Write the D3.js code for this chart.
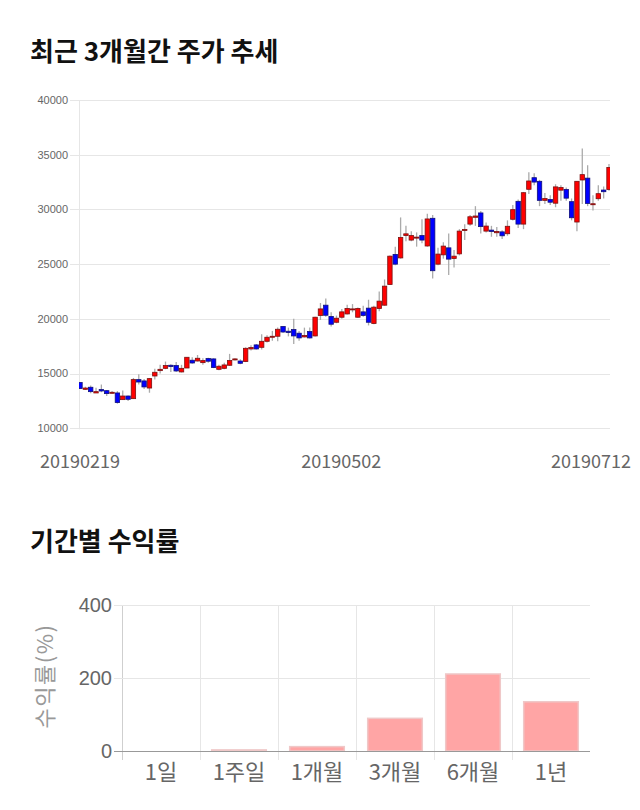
<!DOCTYPE html>
<html><head><meta charset="utf-8">
<script src="https://cdn.jsdelivr.net/npm/d3@7"></script>
<style>
body{margin:0;background:#fff;}
svg{display:block;}
</style></head>
<body>
<svg id="c" width="640" height="810"></svg>
<script>
const dates = [
"20190219","20190220","20190221","20190222","20190225","20190226","20190227","20190228",
"20190304","20190305","20190306","20190307","20190308","20190311","20190312","20190313","20190314","20190315","20190318","20190319","20190320","20190321","20190322","20190325","20190326","20190327","20190328","20190329",
"20190401","20190402","20190403","20190404","20190405","20190408","20190409","20190410","20190411","20190412","20190415","20190416","20190417","20190418","20190419","20190422","20190423","20190424","20190425","20190426","20190429","20190430",
"20190502","20190503","20190507","20190508","20190509","20190510","20190513","20190514","20190515","20190516","20190517","20190520","20190521","20190522","20190523","20190524","20190527","20190528","20190529","20190530","20190531",
"20190603","20190604","20190605","20190607","20190610","20190611","20190612","20190613","20190614","20190617","20190618","20190619","20190620","20190621","20190624","20190625","20190626","20190627","20190628",
"20190701","20190702","20190703","20190704","20190705","20190708","20190709","20190710","20190711","20190712"];
const opens = [14180,13560,13750,13230,13540,13440,13200,13230,12620,12950,12710,14450,14330,13680,14780,15270,15480,15760,15730,15150,
15510,16220,16150,16000,16370,16340,15390,15480,15760,16280,16150,16100,17250,17620,17400,17950,18350,18410,19300,18870,
19020,18690,18350,18840,18440,20310,21250,20220,19690,20150,20450,20860,20150,20640,20980,19580,20950,21250,23140,25890,
25570,27610,27200,27400,27610,26660,29190,25000,25850,26490,25520,25940,28080,28660,29280,29680,28020,28110,27870,27950,
27780,29100,30740,28660,31840,32900,32570,30830,30900,30570,31760,31820,30710,28850,32690,32860,30430,30980,31770,31820];
const highs = [14200,13800,13900,13700,14000,13500,13400,13400,13450,13000,14600,14950,14500,14600,15450,15800,16100,15850,16050,15800,
16500,16500,16700,16400,16450,16400,15800,16000,16800,16400,16300,17400,17600,17700,18600,18500,18900,19200,19350,19200,
20000,18900,19200,19200,20200,21450,21850,20600,20300,20900,21300,21350,21050,21200,21750,21200,22500,23600,25800,26600,
29270,28500,28000,27900,29100,29600,29500,26500,27000,27800,26300,28200,28650,29500,30300,29850,28800,28500,28400,28100,
29000,30400,30900,31600,33400,33300,32700,31500,31300,32300,32200,32000,31000,32600,35560,34040,31300,32200,32100,34150];
const lows = [13600,13500,13200,13230,13300,12950,13150,12250,12600,12500,12700,14000,13600,13250,14450,15000,15400,15150,15150,15100,
15500,15900,16100,15800,16000,15500,15300,15400,15700,16200,15850,16050,17100,17200,17200,17850,18000,17950,18700,18400,
17700,18000,18300,18200,18400,19900,20200,19300,19600,20000,20400,20600,20100,20200,19400,19500,20700,21200,23100,24900,
25500,27100,27100,26600,26900,26600,23700,24900,25500,24000,24700,25800,27200,28500,28500,27800,27900,27500,27500,27300,
27600,29000,28300,28200,31400,32200,30300,30500,30400,30200,30800,30800,29000,28000,30500,30300,29900,30800,31000,31700];
const closes = [13630,13680,13350,13350,13410,13170,13290,12350,12950,12650,14450,14230,13780,14540,15120,15390,15730,15640,15240,15480,
16490,15970,16400,16190,16130,15550,15670,15790,16190,16340,15940,17310,17380,17250,17950,18320,18410,19050,18800,18750,
18440,18260,18480,18260,20150,20910,20330,19510,20060,20640,20950,20910,20950,20310,19690,21070,21620,22990,25730,25000,
27430,27770,27610,27470,27200,29130,24400,25920,26650,25460,25730,28020,28170,29330,29400,28430,28480,27990,27990,27590,
28460,29980,28660,31530,32600,32500,30830,30990,30660,32060,32000,31030,29240,32570,33180,30550,30520,31440,31620,33840];
const priceTicks = [10000,15000,20000,25000,30000,35000,40000];
const dateLabels = ["20190219","20190502","20190712"];

const periods = ["1일","1주일","1개월","3개월","6개월","1년"];
const returns = [0,3,12,89.5,211,135];
const returnTicks = [0,200,400];

const svg = d3.select("#c");
const KR = "'Noto Sans CJK KR','Noto Sans',sans-serif";
const AR = "'Liberation Sans',Arial,sans-serif";

// Titles
svg.append("text").attr("x",30).attr("y",61).text("최근 3개월간 주가 추세")
  .attr("font-family",KR).attr("font-weight","bold").attr("font-size",26).attr("fill","#111");
svg.append("text").attr("x",30).attr("y",551).text("기간별 수익률")
  .attr("font-family",KR).attr("font-weight","bold").attr("font-size",26).attr("fill","#111");

// ---------- Candlestick ----------
const L = 80, R = 610;
const x = d3.scalePoint().domain(dates).range([80, 609]);
const y = d3.scaleLinear().domain([10000,40000]).range([428.3,100]);
const g1 = svg.append("g");
g1.selectAll("line.gh").data(priceTicks).join("line")
  .attr("x1",70).attr("x2",R).attr("y1",d=>Math.round(y(d))+0.5).attr("y2",d=>Math.round(y(d))+0.5)
  .attr("stroke","#e6e6e6").attr("stroke-width",1);
g1.append("line").attr("x1",L-0.5).attr("x2",L-0.5).attr("y1",y(40000)).attr("y2",y(10000)+1)
  .attr("stroke","#e6e6e6");
g1.selectAll("text.yt").data(priceTicks).join("text")
  .attr("x",68).attr("y",d=>y(d)).attr("dy","0.35em").attr("text-anchor","end")
  .attr("font-family",AR).attr("font-size",11).attr("fill","#666").text(d=>d);

svg.append("clipPath").attr("id","pc").append("rect").attr("x",79).attr("y",90).attr("width",531).attr("height",350);
const cg = g1.append("g").attr("clip-path","url(#pc)");
const bw = 4.4;
const idx = d3.range(dates.length);
cg.selectAll("line.w").data(idx).join("line")
  .attr("x1",i=>x(dates[i])).attr("x2",i=>x(dates[i]))
  .attr("y1",i=>y(highs[i])).attr("y2",i=>y(lows[i]))
  .attr("stroke","#aaa").attr("stroke-width",1.3);
cg.selectAll("rect.b").data(idx).join("rect")
  .attr("x",i=>x(dates[i])-bw/2).attr("width",bw)
  .attr("y",i=>y(Math.max(opens[i],closes[i])))
  .attr("height",i=>Math.max(1,Math.abs(y(opens[i])-y(closes[i]))))
  .attr("fill",i=>closes[i]>=opens[i]?"#ff0000":"#0000ff")
  .attr("stroke",i=>closes[i]>=opens[i]?"#7a1010":"#10107a").attr("stroke-width",0.8);

dateLabels.forEach((d,k)=>{
  const t = svg.append("text").attr("y",468).attr("font-family",KR).attr("font-size",18).attr("fill","#666").text(d);
  if(k===0) t.attr("x",x(d)).attr("text-anchor","middle");
  else if(k===dateLabels.length-1) t.attr("x",631).attr("text-anchor","end");
  else t.attr("x",x(d)).attr("dx",-6).attr("text-anchor","middle");
});

// ---------- Bar chart ----------
const bx = d3.scaleBand().domain(periods).range([122,590]).paddingInner(0.3).paddingOuter(0.15);
const by = d3.scaleLinear().domain([0,400]).range([751,605]);
const g2 = svg.append("g");
const step = bx.step();
const bounds = d3.range(periods.length).map(i=>122+i*step);
g2.selectAll("line.vg").data(bounds).join("line")
  .attr("x1",d=>Math.round(d)+0.5).attr("x2",d=>Math.round(d)+0.5).attr("y1",605).attr("y2",760)
  .attr("stroke",(d,i)=>i===0?"#cfcfcf":"#e6e6e6");
g2.selectAll("line.hg").data(returnTicks.filter(v=>v>0)).join("line")
  .attr("x1",114).attr("x2",590).attr("y1",d=>Math.round(by(d))+0.5).attr("y2",d=>Math.round(by(d))+0.5)
  .attr("stroke","#e6e6e6");
g2.selectAll("rect.bar").data(periods).join("rect")
  .attr("x",d=>bx(d)).attr("width",bx.bandwidth())
  .attr("y",(d,i)=>by(returns[i])).attr("height",(d,i)=>by(0)-by(returns[i]))
  .attr("fill","#ffa5a5").attr("stroke","#efc8c8").attr("stroke-width",(d,i)=>returns[i]>0?1.5:0);
g2.append("line").attr("x1",114).attr("x2",590).attr("y1",Math.round(by(0))+0.5).attr("y2",Math.round(by(0))+0.5)
  .attr("stroke","#999");
g2.selectAll("text.ry").data(returnTicks).join("text")
  .attr("x",112).attr("y",d=>by(d)).attr("dy","0.35em").attr("text-anchor","end")
  .attr("font-family",AR).attr("font-size",20).attr("fill","#666").text(d=>d);
g2.selectAll("text.rx").data(periods).join("text")
  .attr("x",d=>bx(d)+bx.bandwidth()/2).attr("y",780).attr("text-anchor","middle")
  .attr("font-family",KR).attr("font-size",22).attr("fill","#666").text(d=>d);
g2.append("text").attr("transform","translate(53,676) rotate(-90)").attr("text-anchor","middle")
  .attr("font-family",KR).attr("font-size",22).attr("letter-spacing",1.5).attr("fill","#999").text("수익률(%)");
</script>
</body></html>
